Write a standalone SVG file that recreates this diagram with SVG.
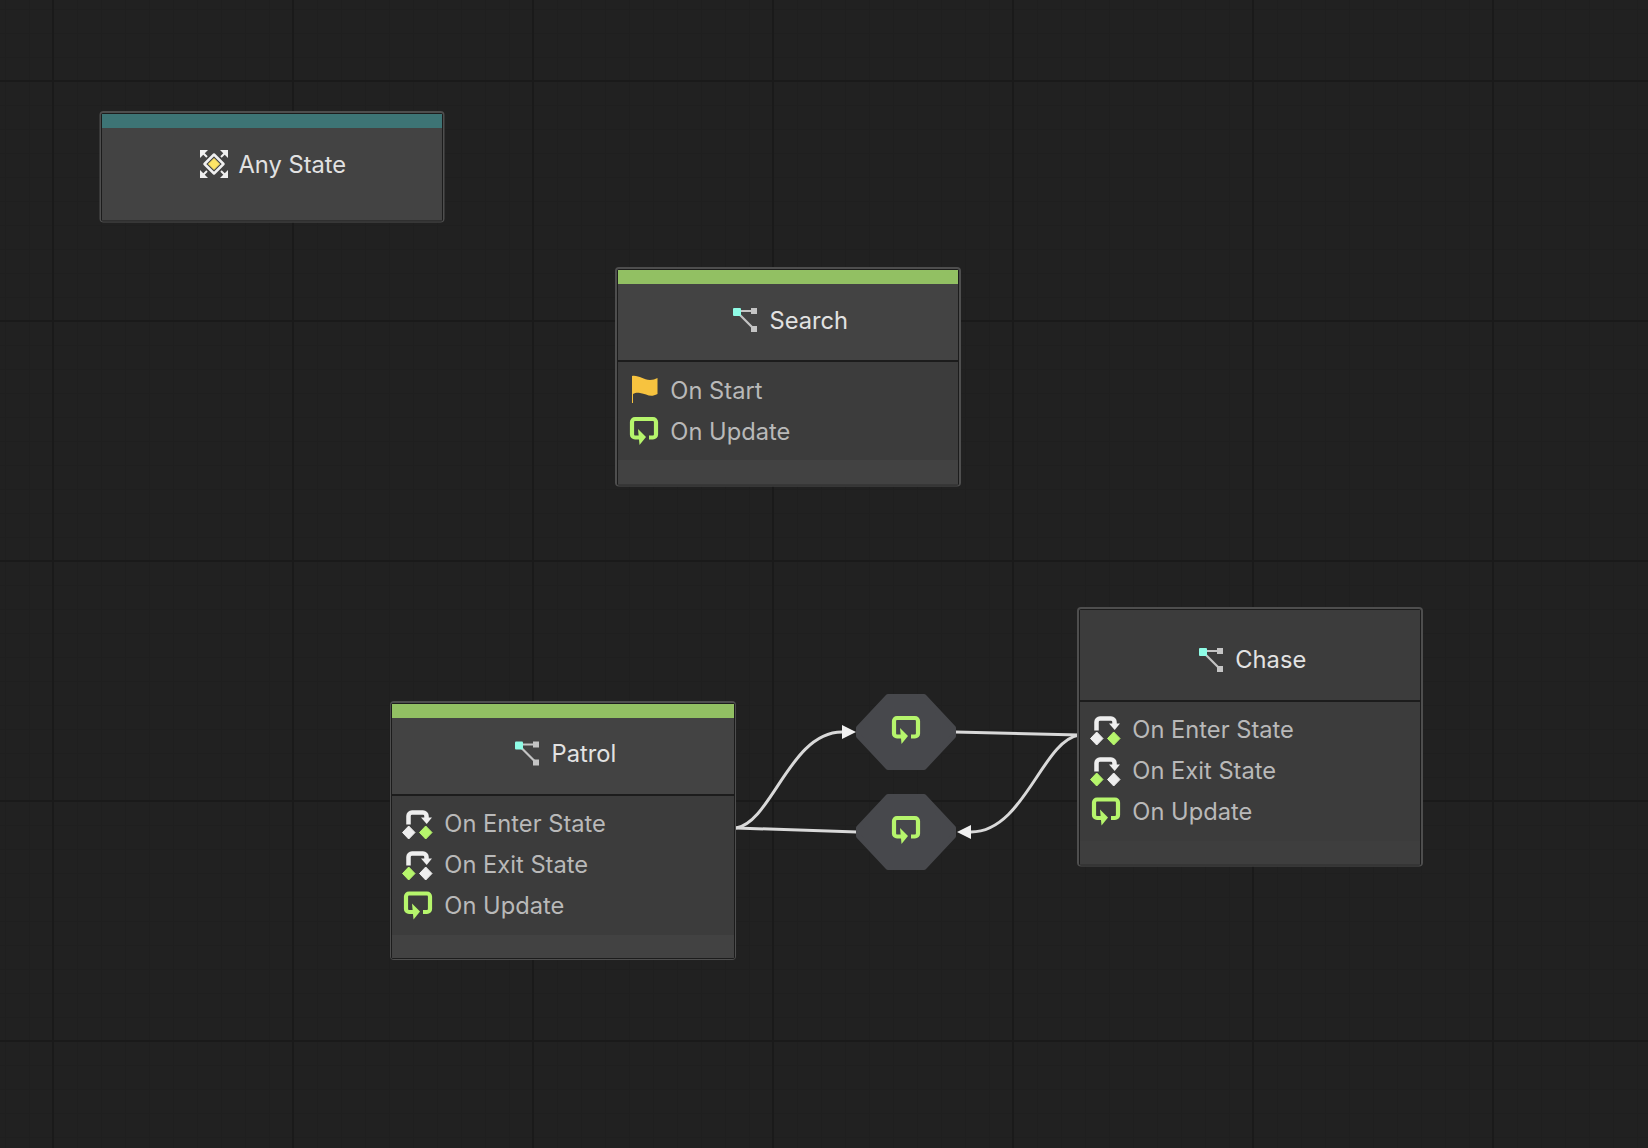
<svg xmlns="http://www.w3.org/2000/svg" width="1648" height="1148" viewBox="0 0 1648 1148">
<style>
text{font-family:Inter,"Noto Sans","Liberation Sans",sans-serif;font-size:23.7px}
.t{fill:#e2e2e2}
.r{fill:#b9b9b9}
.o{fill:#4e4e4e}
.d{fill:#1c1c1c}
.h{fill:#434343}
.b{fill:#3c3c3c}
.f{fill:#424242}
.fc{fill:#3e3e3e}
.sep{fill:#1c1c1c}
.hex{fill:#47484c;stroke:#47484c;stroke-width:5;stroke-linejoin:round}
.con{fill:none;stroke:#d9d9d9;stroke-width:3}
</style>
<defs>
<pattern id="minor" width="24" height="24" x="5" y="9" patternUnits="userSpaceOnUse"><path d="M0.5 0V24M0 0.5H24" stroke="#1f1f1f" fill="none"/></pattern>
<pattern id="major" width="240" height="240" x="52" y="80" patternUnits="userSpaceOnUse"><path d="M1 0V240M0 1H240" stroke="#1a1a1a" stroke-width="2" fill="none"/></pattern>
<marker id="arrow" markerUnits="userSpaceOnUse" markerWidth="15" markerHeight="16" refX="0" refY="8" orient="auto"><path d="M0 1L14 8L0 15Z" fill="#f0f0f0"/></marker>
<g id="i-state">
<path d="M4 3H21M4 4L21 21" stroke="#c4c4c4" stroke-width="2.200" fill="none"/>
<rect x="18" y="0" width="6" height="6" fill="#c4c4c4"/>
<rect x="18" y="18" width="6" height="6" fill="#c4c4c4"/>
<rect x="0" y="0" width="8" height="8" rx="1" fill="#8ffce6"/>
</g>
<g id="i-update">
<path d="M19 20.500H23a3 3 0 0 0 3-3V5a3 3 0 0 0-3-3H5a3 3 0 0 0-3 3V17.500a3 3 0 0 0 3 3H10" fill="none" stroke="#b6f56c" stroke-width="4.200"/>
<path d="M8 12L16 20L9.500 28Z" fill="#b6f56c"/>
</g>
<g id="i-enter">
<path d="M6.500 15V6.500a3.500 3.500 0 0 1 3.500-3.500H21a3.500 3.500 0 0 1 3.500 3.500V9" fill="none" stroke="#eeeeee" stroke-width="4.500"/>
<path d="M19 8H30L24.700 14.500Z" fill="#eeeeee"/>
<path d="M6.700 16.500L13 23L6.700 29.500L0.500 23Z" fill="#eeeeee" stroke="#eeeeee" stroke-linejoin="round"/>
<path d="M23.700 16.500L30 23L23.700 29.500L17.500 23Z" fill="#b6f56c" stroke="#b6f56c" stroke-linejoin="round"/>
</g>
<g id="i-exit">
<path d="M6.500 15V6.500a3.500 3.500 0 0 1 3.500-3.500H21a3.500 3.500 0 0 1 3.500 3.500V9" fill="none" stroke="#eeeeee" stroke-width="4.500"/>
<path d="M19 8H30L24.700 14.500Z" fill="#eeeeee"/>
<path d="M6.700 16.500L13 23L6.700 29.500L0.500 23Z" fill="#b6f56c" stroke="#b6f56c" stroke-linejoin="round"/>
<path d="M23.700 16.500L30 23L23.700 29.500L17.500 23Z" fill="#eeeeee" stroke="#eeeeee" stroke-linejoin="round"/>
</g>
</defs>
<rect width="1648" height="1148" fill="#212121"/>
<rect width="1648" height="1148" fill="url(#minor)"/>
<rect width="1648" height="1148" fill="url(#major)"/>

<g id="connectors">
<path class="con" d="M736 828C772 822 790 732 842 732" marker-end="url(#arrow)"/>
<path class="con" d="M736 828L857 832"/>
<path class="con" d="M955 732L1079 735"/>
<path class="con" d="M1079 735C1042 741 1024 832 971 832" marker-end="url(#arrow)"/>
</g>

<g id="node-any-state">
<rect class="o" x="99.500" y="111" width="345" height="111.500" rx="4"/>
<rect class="d" x="101" y="113" width="342" height="108.500" rx="2"/>
<rect class="h" x="102" y="114" width="340" height="106.500"/>
<rect x="102" y="114" width="340" height="14" fill="#3d7475"/>
<g transform="translate(200 150)">
<path d="M0 0H8L0 8ZM28 0V8L20 0ZM0 28V20L8 28ZM28 28H20L28 20Z" fill="#f0f0f0"/>
<path d="M3 3L7 7M25 3L21 7M3 25L7 21M25 25L21 21" stroke="#f0f0f0" stroke-width="2"/>
<path d="M14 4.500L23.500 14L14 23.500L4.500 14Z" fill="#434343" stroke="#f0f0f0" stroke-width="2.500" stroke-linejoin="round"/>
<path d="M14 8.500L19.500 14L14 19.500L8.500 14Z" fill="#ffe566" stroke="#ffe566" stroke-linejoin="round"/>
</g>
<text class="t" x="238.500" y="172.700">Any State</text>
</g>

<g id="node-search">
<rect class="o" x="615" y="267" width="346" height="219.500" rx="4"/>
<rect class="d" x="617" y="269" width="342" height="216.500" rx="2"/>
<rect class="b" x="618" y="270" width="340" height="214.500"/>
<rect class="h" x="618" y="270" width="340" height="90"/>
<rect x="618" y="270" width="340" height="14" fill="#92c063"/>
<rect class="sep" x="618" y="360" width="340" height="2"/>
<rect class="f" x="618" y="460" width="340" height="24.500"/>
<use href="#i-state" x="733" y="308"/>
<text class="t" x="769.500" y="328.700">Search</text>
<path d="M632 376C639 375 643 380 650 380C653 380 655 379 657.500 378V394C650 398 647 394 640 393C637 392.500 635 393 633 394V403H632Z" fill="#f7c33f"/>
<text class="r" x="670.300" y="398.700">On Start</text>
<use href="#i-update" x="630" y="417"/>
<text class="r" x="670.300" y="439.700">On Update</text>
</g>

<g id="node-patrol">
<rect class="o" x="390" y="701" width="346" height="259" rx="4"/>
<rect class="d" x="391" y="703" width="344" height="256" rx="2"/>
<rect class="b" x="392" y="704" width="342" height="254"/>
<rect class="h" x="392" y="704" width="342" height="90"/>
<rect x="392" y="704" width="342" height="14" fill="#92c063"/>
<rect class="sep" x="392" y="794" width="342" height="2"/>
<rect class="f" x="392" y="935" width="342" height="23"/>
<use href="#i-state" x="515" y="741.500"/>
<text class="t" x="551.500" y="762.200">Patrol</text>
<use href="#i-enter" x="402" y="809.500"/>
<text class="r" x="444.300" y="832.200">On Enter State</text>
<use href="#i-exit" x="402" y="850.500"/>
<text class="r" x="444.300" y="873.200">On Exit State</text>
<use href="#i-update" x="404" y="891.500"/>
<text class="r" x="444.300" y="914.200">On Update</text>
</g>

<g id="transition-1">
<path class="hex" d="M888 696.500H924L953.500 728V736L924 767.500H888L858.500 736V728Z"/>
<use href="#i-update" x="892" y="716"/>
</g>
<g id="transition-2">
<path class="hex" d="M888 796.500H924L953.500 828V836L924 867.500H888L858.500 836V828Z"/>
<use href="#i-update" x="892" y="816"/>
</g>

<g id="node-chase">
<rect class="o" x="1077" y="607" width="346" height="259.500" rx="4"/>
<rect class="d" x="1079" y="609" width="342" height="256.500" rx="2"/>
<rect class="b" x="1080" y="610" width="340" height="254.500"/>
<rect class="sep" x="1080" y="700" width="340" height="2"/>
<rect class="fc" x="1080" y="841" width="340" height="23.500"/>
<use href="#i-state" x="1199" y="648"/>
<text class="t" x="1235.300" y="668.400">Chase</text>
<use href="#i-enter" x="1090" y="715.500"/>
<text class="r" x="1132.300" y="738.200">On Enter State</text>
<use href="#i-exit" x="1090" y="756.500"/>
<text class="r" x="1132.300" y="779.200">On Exit State</text>
<use href="#i-update" x="1092" y="797.500"/>
<text class="r" x="1132.300" y="820.200">On Update</text>
</g>
</svg>
